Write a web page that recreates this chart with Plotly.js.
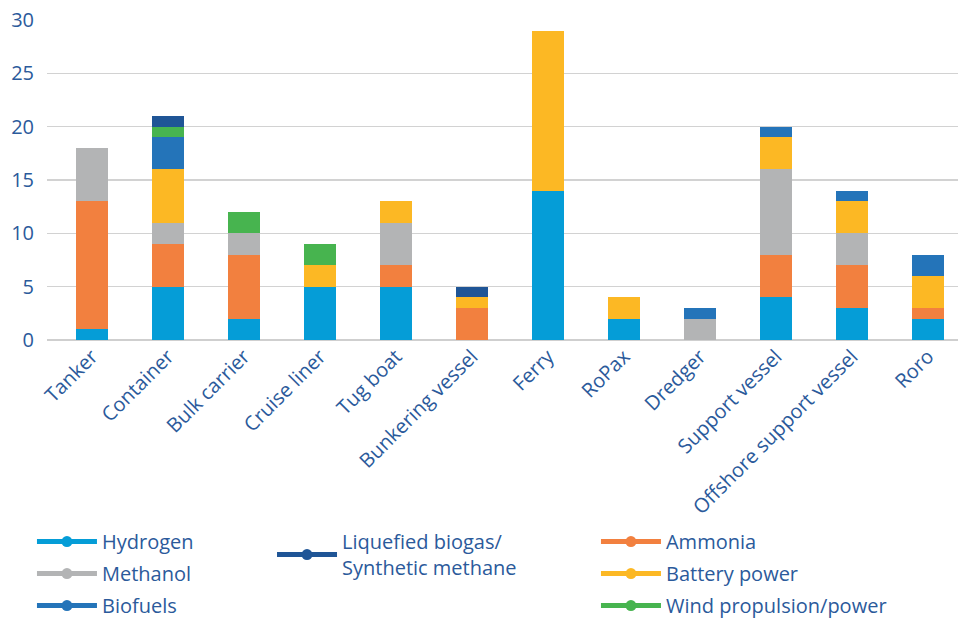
<!DOCTYPE html>
<html><head><meta charset="utf-8">
<script src="https://cdn.plot.ly/plotly-3.0.1.min.js"></script>
<style>html,body{margin:0;padding:0;background:#fff}#chart{width:958px;height:619px}</style>
</head><body><div id="chart"></div>
<script>
const categories = ["Tanker","Container","Bulk carrier","Cruise liner","Tug boat","Bunkering vessel","Ferry","RoPax","Dredger","Support vessel","Offshore support vessel","Roro"];
const hydrogen = [1,5,2,5,5,0,14,2,0,4,3,2];
const ammonia  = [12,4,6,0,2,3,0,0,0,4,4,1];
const methanol = [5,2,2,0,4,0,0,0,2,8,3,0];
const battery  = [0,5,0,2,2,1,15,2,0,3,3,3];
const biofuels = [0,3,0,0,0,0,0,0,1,1,1,2];
const wind     = [0,1,2,2,0,0,0,0,0,0,0,0];
const lbg      = [0,1,0,0,0,1,0,0,0,0,0,0];

const yTicks = [0,5,10,15,20,25,30];

const C = {
  hydrogen:'#059dd7', ammonia:'#f2803f', methanol:'#b3b4b5', battery:'#fcb824',
  biofuels:'#2474b9', wind:'#47b44f', lbg:'#1f5596'
};
const TXT = '#2b5a9b';
const FONT = 'Open Sans, sans-serif';

const series = [
  {name:'Hydrogen', y:hydrogen, c:C.hydrogen},
  {name:'Ammonia', y:ammonia, c:C.ammonia},
  {name:'Methanol', y:methanol, c:C.methanol},
  {name:'Battery power', y:battery, c:C.battery},
  {name:'Biofuels', y:biofuels, c:C.biofuels},
  {name:'Wind propulsion/power', y:wind, c:C.wind},
  {name:'Liquefied biogas/<br>Synthetic methane', y:lbg, c:C.lbg}
];

const data = series.map(s => ({
  type:'bar', x:categories, y:s.y, name:s.name, showlegend:false,
  marker:{color:s.c, line:{width:0}}, hoverinfo:'x+y+name'
}));

// legend-only entries (line + dot symbol)
const legendSpec = [
  {name:'Hydrogen', c:C.hydrogen, lg:'legend'},
  {name:'Methanol', c:C.methanol, lg:'legend'},
  {name:'Biofuels', c:C.biofuels, lg:'legend'},
  {name:'Liquefied biogas/<br>Synthetic methane', c:C.lbg, lg:'legend2'},
  {name:'Ammonia', c:C.ammonia, lg:'legend3'},
  {name:'Battery power', c:C.battery, lg:'legend3'},
  {name:'Wind propulsion/power', c:C.wind, lg:'legend3'}
];
legendSpec.forEach((s,i) => data.push({
  type:'scatter', mode:'lines+markers', x:[categories[0]], y:[null],
  name:s.name, legend:s.lg, legendgroup:'g'+i, showlegend:true,
  line:{color:s.c, width:5}, marker:{color:s.c, size:11}, hoverinfo:'skip'
}));

const legendBase = {
  orientation:'v', yanchor:'top', xanchor:'left',
  font:{family:FONT, size:20, color:TXT}, bgcolor:'rgba(0,0,0,0)',
  itemwidth:60, tracegroupgap:3, itemclick:false, itemdoubleclick:false
};

const layout = {
  width:958, height:619,
  margin:{l:47, r:0, t:20, b:279, autoexpand:false},
  paper_bgcolor:'#fff', plot_bgcolor:'#fff',
  barmode:'stack', bargap:0.58,
  font:{family:FONT, color:TXT},
  xaxis:{
    type:'category', range:[-0.592, 11.395], tickangle:-45, automargin:false,
    tickfont:{family:FONT, size:20, color:TXT}, showgrid:false, zeroline:false,
    showline:false, ticks:''
  },
  yaxis:{
    range:[0,30], tickvals:yTicks, ticktext:yTicks.map(String), automargin:false,
    tickfont:{family:FONT, size:20, color:TXT},
    showgrid:true, gridcolor:'#d2d2d2', gridwidth:1.5,
    zeroline:true, zerolinecolor:'#cfcfcf', zerolinewidth:2,
    showline:false, ticks:'', ticklabelstandoff:12
  },
  showlegend:true,
  legend:Object.assign({}, legendBase, {x:-0.0165, y:-0.569}),
  legend2:Object.assign({}, legendBase, {x:0.247, y:-0.569}),
  legend3:Object.assign({}, legendBase, {x:0.6026, y:-0.569})
};

Plotly.newPlot('chart', data, layout, {displayModeBar:false, staticPlot:true});
</script>
</body></html>
